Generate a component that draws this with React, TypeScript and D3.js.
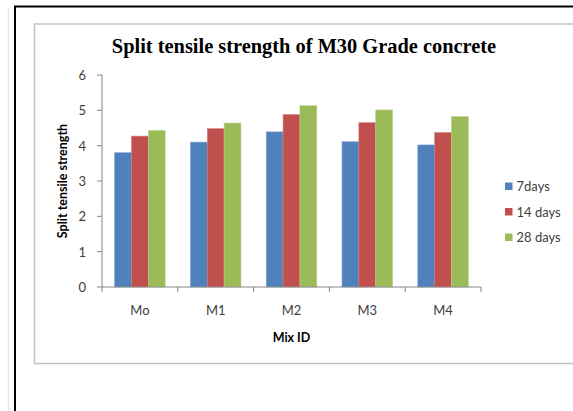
import React from "react";
import * as d3 from "d3";

const categories = ["Mo", "M1", "M2", "M3", "M4"];
const seriesNames = ["7days", "14 days", "28 days"];
const days7 = [3.8, 4.1, 4.39, 4.11, 4.02];
const days14 = [4.27, 4.48, 4.88, 4.65, 4.37];
const days28 = [4.43, 4.64, 5.13, 5.01, 4.82];
const yTicks = [0, 1, 2, 3, 4, 5, 6];
const colors = ["#4F81BD", "#C0504D", "#9BBB59"];
const edgeColors = ["#7A9ED0", "#D27D7B", "#B7D08A"];

const W = 573;
const H = 411;
const plot = { left: 102, right: 481, top: 75, bottom: 287 };

export default function App() {
  const series = [days7, days14, days28];
  const x = d3.scaleBand<string>().domain(categories).range([plot.left, plot.right]).paddingInner(0).paddingOuter(0);
  const bw = x.bandwidth() / 4.5;
  const x1 = d3.scaleBand<number>().domain([0, 1, 2]).range([0, bw * 3]);
  const y = d3.scaleLinear().domain([0, 6]).range([plot.bottom, plot.top]);
  const tickFont = "Lato, 'Open Sans', sans-serif";
  const boundaries = d3.range(categories.length + 1).map((i) => plot.left + i * x.step());

  return (
    <svg width={W} height={H} style={{ position: "absolute", left: 0, top: 0, background: "#fff" }}>
      <rect x={0} y={0} width={W} height={H} fill="#fff" />
      {/* page frame lines */}
      <line x1={8.5} y1={9} x2={8.5} y2={H} stroke="#e6e6e6" strokeWidth={1.5} />
      <line x1={15} y1={6} x2={15} y2={H} stroke="#000" strokeWidth={2} />
      <line x1={14} y1={6.5} x2={W} y2={6.5} stroke="#000" strokeWidth={2} />
      {/* chart area border */}
      <rect x={34.5} y={24} width={W} height={339.5} fill="#fff" stroke="#c4c4c4" strokeWidth={1.5} />

      <text x={304} y={52.5} textAnchor="middle" fontFamily="'Liberation Serif', 'Times New Roman', serif" fontWeight="bold" fontSize={20.4} fill="#000">
        Split tensile strength of M30 Grade concrete
      </text>

      {/* bars */}
      {categories.map((c, i) => (
        <g key={c} transform={`translate(${(x(c) as number) + (x.bandwidth() - bw * 3) / 2},0)`}>
          {series.map((s, j) => (
            <rect
              key={j}
              x={x1(j) as number}
              y={y(s[i])}
              width={x1.bandwidth()}
              height={y(0) - y(s[i])}
              fill={colors[j]}
              stroke={edgeColors[j]}
              strokeWidth={0.6}
            />
          ))}
        </g>
      ))}

      {/* y axis */}
      <line x1={plot.left} y1={plot.top} x2={plot.left} y2={plot.bottom} stroke="#868686" strokeWidth={1} />
      {yTicks.map((t) => (
        <g key={t}>
          <line x1={plot.left - 5} y1={y(t)} x2={plot.left} y2={y(t)} stroke="#868686" strokeWidth={1} />
          <text x={86} y={y(t) + 5} textAnchor="end" fontFamily={tickFont} fontSize={13} fill="#404040">
            {t}
          </text>
        </g>
      ))}
      {/* x axis */}
      <line x1={plot.left} y1={plot.bottom} x2={plot.right} y2={plot.bottom} stroke="#868686" strokeWidth={1} />
      {boundaries.map((bx, i) => (
        <line key={i} x1={bx} y1={plot.bottom} x2={bx} y2={plot.bottom + 5} stroke="#868686" strokeWidth={1} />
      ))}
      {categories.map((c) => (
        <text key={c} x={(x(c) as number) + x.bandwidth() / 2} y={315} textAnchor="middle" fontFamily={tickFont} fontSize={13} fill="#404040">
          {c}
        </text>
      ))}

      <text x={(plot.left + plot.right) / 2} y={342} textAnchor="middle" fontFamily={tickFont} fontWeight="bold" fontSize={12.5} fill="#000">
        Mix ID
      </text>
      <text
        transform={`translate(66.5,${(plot.top + plot.bottom) / 2}) rotate(-90)`}
        textAnchor="middle"
        fontFamily={tickFont}
        fontWeight="bold"
        fontSize={12.5}
        fill="#000"
      >
        Split tensile strength
      </text>

      {/* legend */}
      {seriesNames.map((n, j) => (
        <g key={n} transform={`translate(505,${182.5 + j * 25.5})`}>
          <rect x={0} y={0} width={7.5} height={7.5} fill={colors[j]} />
          <text x={11.5} y={8.5} fontFamily={tickFont} fontSize={13} fill="#404040">
            {n}
          </text>
        </g>
      ))}
    </svg>
  );
}
